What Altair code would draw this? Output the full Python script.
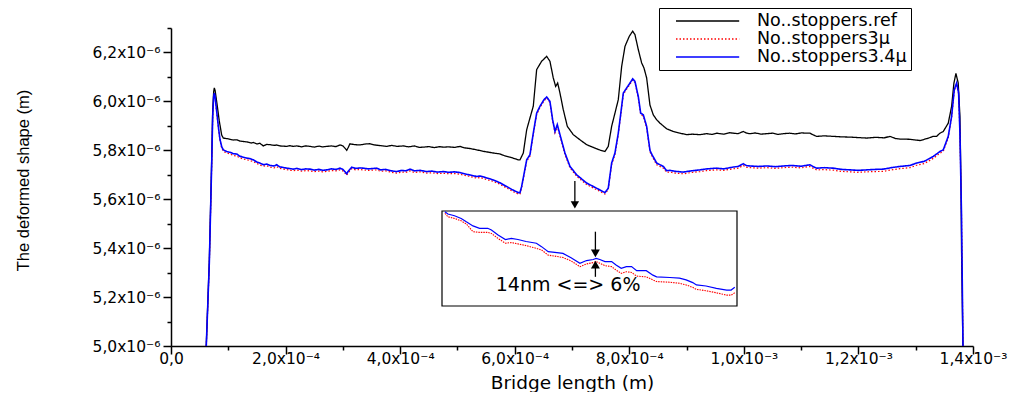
import json
import altair as alt
import pandas as pd

# ---------------- data (x in 1e-4 m, y in 1e-6 m) ----------------
ref_x = [0.600, 0.669, 0.710, 0.728, 0.745, 0.756, 0.770, 0.797, 0.843, 0.885, 0.913, 0.970, 1.030, 1.090,
         1.147, 1.200, 1.262, 1.330, 1.400, 1.437, 1.500, 1.550, 1.611, 1.670, 1.728, 1.800, 1.845, 1.900,
         2.020, 2.080, 2.135, 2.200, 2.280, 2.350, 2.426, 2.500, 2.580, 2.650, 2.718, 2.800, 2.880, 2.950,
         3.000, 3.040, 3.067, 3.095, 3.124, 3.200, 3.300, 3.400, 3.474, 3.550, 3.620, 3.700, 3.765, 3.850,
         3.950, 4.055, 4.150, 4.250, 4.330, 4.404, 4.500, 4.600, 4.680, 4.753, 4.850, 4.950, 5.044, 5.120,
         5.200, 5.336, 5.450, 5.550, 5.626, 5.743, 5.820, 5.917, 6.000, 6.062, 6.092, 6.150, 6.209, 6.266,
         6.324, 6.383, 6.470, 6.558, 6.615, 6.673, 6.715, 6.750, 6.790, 6.848, 6.918, 7.022, 7.139, 7.256,
         7.401, 7.500, 7.575, 7.633, 7.692, 7.750, 7.808, 7.867, 7.925, 8.000, 8.059, 8.099, 8.157, 8.216,
         8.256, 8.303, 8.361, 8.419, 8.478, 8.536, 8.652, 8.768, 8.827, 8.885, 9.002, 9.100, 9.234, 9.350,
         9.450, 9.525, 9.650, 9.750, 9.815, 9.900, 9.990, 10.050, 10.107, 10.200, 10.300, 10.398, 10.500,
         10.600, 10.688, 10.800, 10.900, 11.000, 11.154, 11.220, 11.271, 11.400, 11.561, 11.700, 11.852,
         12.000, 12.143, 12.300, 12.450, 12.550, 12.650, 12.725, 12.900, 13.074, 13.200, 13.306, 13.365,
         13.423, 13.481, 13.568, 13.627, 13.667, 13.702, 13.742, 13.772, 13.790, 13.800, 13.830]
ref_y = [4.900, 5.350, 5.760, 5.966, 6.040, 6.055, 6.045, 6.000, 5.920, 5.862, 5.850, 5.848, 5.845, 5.842,
         5.843, 5.838, 5.836, 5.834, 5.830, 5.832, 5.826, 5.829, 5.818, 5.824, 5.823, 5.820, 5.822, 5.818,
         5.816, 5.819, 5.816, 5.818, 5.814, 5.818, 5.816, 5.813, 5.817, 5.814, 5.816, 5.818, 5.815, 5.822,
         5.818, 5.808, 5.800, 5.812, 5.827, 5.823, 5.822, 5.826, 5.827, 5.822, 5.820, 5.818, 5.816, 5.820,
         5.816, 5.818, 5.814, 5.818, 5.812, 5.813, 5.815, 5.811, 5.815, 5.813, 5.814, 5.812, 5.816, 5.810,
         5.808, 5.802, 5.796, 5.792, 5.789, 5.785, 5.778, 5.772, 5.766, 5.761, 5.761, 5.789, 5.884, 5.932,
         5.980, 6.130, 6.164, 6.184, 6.164, 6.096, 6.061, 6.075, 6.034, 5.966, 5.898, 5.864, 5.843, 5.823,
         5.809, 5.800, 5.795, 5.816, 5.898, 5.952, 6.007, 6.143, 6.225, 6.266, 6.287, 6.273, 6.212, 6.157,
         6.137, 6.096, 5.985, 5.945, 5.925, 5.911, 5.888, 5.877, 5.873, 5.870, 5.864, 5.866, 5.864, 5.868,
         5.865, 5.870, 5.866, 5.872, 5.870, 5.868, 5.877, 5.870, 5.868, 5.871, 5.866, 5.868, 5.870,
         5.865, 5.868, 5.870, 5.867, 5.871, 5.870, 5.862, 5.857, 5.859, 5.857, 5.855, 5.854,
         5.852, 5.850, 5.853, 5.851, 5.857, 5.848, 5.846, 5.845, 5.840, 5.848, 5.857, 5.857,
         5.870, 5.877, 5.911, 5.980, 6.075, 6.114, 6.075, 5.939, 5.666, 5.390, 4.900]

mu_x = [0.600, 0.669, 0.710, 0.728, 0.745, 0.756, 0.770, 0.797, 0.830, 0.855, 0.885, 0.913, 0.970, 1.030,
        1.090, 1.147, 1.200, 1.262, 1.330, 1.379, 1.437, 1.500, 1.550, 1.611, 1.670, 1.728, 1.800, 1.845,
        1.900, 1.960, 2.020, 2.080, 2.135, 2.200, 2.280, 2.350, 2.426, 2.500, 2.580, 2.650, 2.718, 2.800,
        2.880, 2.950, 3.000, 3.040, 3.067, 3.095, 3.154, 3.220, 3.300, 3.357, 3.450, 3.590, 3.660, 3.750,
        3.850, 3.940, 4.030, 4.100, 4.172, 4.250, 4.350, 4.463, 4.550, 4.650, 4.753, 4.850, 4.950, 5.044,
        5.120, 5.200, 5.336, 5.394, 5.500, 5.626, 5.743, 5.859, 5.950, 6.062, 6.092, 6.121, 6.209, 6.266,
        6.324, 6.383, 6.441, 6.511, 6.558, 6.615, 6.662, 6.703, 6.743, 6.790, 6.877, 6.965, 7.081, 7.256,
        7.430, 7.575, 7.633, 7.692, 7.750, 7.808, 7.896, 7.954, 8.012, 8.059, 8.099, 8.157, 8.199, 8.245,
        8.303, 8.361, 8.390, 8.478, 8.594, 8.652, 8.710, 8.800, 8.943, 9.080, 9.234, 9.350, 9.525, 9.650,
        9.800, 9.900, 9.990, 10.050, 10.107, 10.250, 10.398, 10.550, 10.688, 10.850, 11.000, 11.154,
        11.220, 11.271, 11.400, 11.561, 11.700, 11.852, 12.000, 12.143, 12.300, 12.434, 12.600, 12.725,
        12.900, 13.016, 13.150, 13.306, 13.423, 13.481, 13.568, 13.627, 13.673, 13.714, 13.749, 13.772,
        13.800, 13.830]
mu34_y = [4.900, 5.340, 5.740, 5.940, 6.020, 6.034, 6.020, 5.960, 5.890, 5.845, 5.815, 5.802, 5.795, 5.792,
          5.786, 5.785, 5.776, 5.772, 5.768, 5.766, 5.761, 5.752, 5.748, 5.741, 5.744, 5.738, 5.736, 5.741,
          5.732, 5.730, 5.727, 5.725, 5.723, 5.726, 5.721, 5.724, 5.723, 5.719, 5.722, 5.718, 5.720, 5.724,
          5.722, 5.727, 5.722, 5.712, 5.704, 5.715, 5.731, 5.726, 5.728, 5.727, 5.724, 5.727, 5.720, 5.722,
          5.716, 5.713, 5.718, 5.716, 5.723, 5.716, 5.718, 5.713, 5.715, 5.711, 5.713, 5.710, 5.712, 5.709,
          5.704, 5.700, 5.693, 5.695, 5.688, 5.679, 5.667, 5.652, 5.640, 5.627, 5.627, 5.652, 5.761, 5.782,
          5.870, 5.952, 5.980, 6.007, 6.018, 6.000, 5.925, 5.877, 5.905, 5.864, 5.789, 5.734, 5.700, 5.666,
          5.645, 5.627, 5.645, 5.748, 5.789, 5.870, 6.034, 6.055, 6.075, 6.092, 6.082, 6.020, 5.952, 5.945,
          5.898, 5.800, 5.785, 5.748, 5.734, 5.717, 5.718, 5.714, 5.711, 5.716, 5.720, 5.724, 5.727, 5.724,
          5.731, 5.734, 5.745, 5.737, 5.736, 5.734, 5.736, 5.733, 5.736, 5.738, 5.735, 5.741,
          5.732, 5.727, 5.729, 5.727, 5.722, 5.720, 5.718, 5.720, 5.722, 5.723, 5.730, 5.734,
          5.738, 5.748, 5.755, 5.775, 5.795, 5.802, 5.857, 5.939, 6.048, 6.075, 6.034, 5.870,
          5.529, 4.900]
mu3_y = [4.900, 5.335, 5.735, 5.935, 6.015, 6.030, 6.016, 5.955, 5.885, 5.840, 5.809, 5.796, 5.789, 5.785,
         5.779, 5.776, 5.770, 5.764, 5.761, 5.758, 5.754, 5.746, 5.740, 5.735, 5.737, 5.731, 5.728, 5.733,
         5.726, 5.723, 5.721, 5.718, 5.717, 5.719, 5.715, 5.717, 5.716, 5.713, 5.715, 5.712, 5.714, 5.717,
         5.716, 5.720, 5.716, 5.706, 5.698, 5.709, 5.725, 5.720, 5.721, 5.720, 5.718, 5.720, 5.714, 5.716,
         5.710, 5.707, 5.711, 5.710, 5.716, 5.709, 5.712, 5.707, 5.708, 5.705, 5.706, 5.704, 5.705, 5.702,
         5.698, 5.694, 5.686, 5.689, 5.681, 5.673, 5.661, 5.646, 5.634, 5.621, 5.622, 5.647, 5.755, 5.776,
         5.865, 5.946, 5.975, 6.002, 6.014, 5.995, 5.920, 5.872, 5.898, 5.858, 5.783, 5.728, 5.694, 5.660,
         5.639, 5.621, 5.640, 5.742, 5.783, 5.864, 6.028, 6.050, 6.070, 6.088, 6.077, 6.015, 5.946, 5.939,
         5.892, 5.794, 5.779, 5.741, 5.727, 5.710, 5.711, 5.707, 5.704, 5.709, 5.713, 5.717, 5.720, 5.718,
         5.724, 5.727, 5.738, 5.730, 5.729, 5.727, 5.729, 5.726, 5.729, 5.731, 5.728, 5.734,
         5.725, 5.720, 5.721, 5.719, 5.714, 5.712, 5.710, 5.712, 5.713, 5.714, 5.721, 5.725,
         5.729, 5.739, 5.746, 5.767, 5.788, 5.796, 5.852, 5.935, 6.044, 6.071, 6.030, 5.866,
         5.525, 4.900]

# inset (zoom of the slope between the two bumps)
inset_x = [6.904, 6.908, 6.917, 6.926, 6.933, 6.942, 6.951, 6.962, 6.967, 6.976, 6.986, 6.994, 7.003,
           7.014, 7.028, 7.035, 7.044, 7.053, 7.064, 7.075, 7.087, 7.096, 7.105, 7.109, 7.114, 7.121,
           7.130, 7.136, 7.143, 7.150, 7.157, 7.164, 7.177, 7.186, 7.191, 7.209, 7.222, 7.231, 7.240,
           7.245, 7.258, 7.272, 7.286, 7.292, 7.297]
inset_34 = [5.878, 5.871, 5.866, 5.858, 5.848, 5.836, 5.829, 5.829, 5.824, 5.809, 5.796, 5.799, 5.796,
            5.790, 5.785, 5.775, 5.760, 5.758, 5.755, 5.742, 5.726, 5.734, 5.737, 5.740, 5.737, 5.731,
            5.731, 5.721, 5.711, 5.716, 5.716, 5.704, 5.704, 5.691, 5.686, 5.684, 5.682, 5.677, 5.669,
            5.662, 5.659, 5.652, 5.647, 5.647, 5.655]
inset_3 = [5.873, 5.863, 5.858, 5.851, 5.842, 5.819, 5.817, 5.817, 5.814, 5.799, 5.785, 5.787, 5.783,
           5.778, 5.770, 5.765, 5.750, 5.747, 5.743, 5.733, 5.716, 5.724, 5.728, 5.731, 5.726, 5.719,
           5.716, 5.706, 5.696, 5.701, 5.699, 5.688, 5.686, 5.677, 5.672, 5.670, 5.667, 5.662, 5.655,
           5.649, 5.645, 5.639, 5.632, 5.632, 5.639]
inset_box_x = [6.90, 7.30]
inset_box_y = [5.60, 5.88]
inset_arrow_x = [7.108]
inset_arrow_down = [5.819, 5.760, 5.755]   # stem top, stem bottom, head
inset_arrow_up = [5.686, 5.722, 5.722]     # stem bottom, stem top, head
inset_text = ["14nm <=> 6%"]
inset_text_pos = [7.071, 5.662]

main_arrow_x = [7.05]
main_arrow_y = [5.675, 5.585, 5.577]       # stem top, stem bottom, head

series_names = ["No..stoppers.ref", "No..stoppers3\u03bc", "No..stoppers3.4\u03bc"]
series_colors = ["#000000", "#ff0000", "#0000ff"]
series_dash = [[1, 0], [1.5, 2], [1, 0]]

x_tick_values = [0.0, 1e-4, 2e-4, 3e-4, 4e-4, 5e-4, 6e-4, 7e-4, 8e-4, 9e-4, 1.0e-3, 1.1e-3, 1.2e-3, 1.3e-3, 1.4e-3]
x_tick_labels = ["0,0", "2,0x10\u207b\u2074", "4,0x10\u207b\u2074", "6,0x10\u207b\u2074", "8,0x10\u207b\u2074",
                 "1,0x10\u207b\u00b3", "1,2x10\u207b\u00b3", "1,4x10\u207b\u00b3"]
y_tick_values = [5.0e-6, 5.1e-6, 5.2e-6, 5.3e-6, 5.4e-6, 5.5e-6, 5.6e-6, 5.7e-6, 5.8e-6, 5.9e-6,
                 6.0e-6, 6.1e-6, 6.2e-6, 6.3e-6]
y_tick_labels = ["5,0x10\u207b\u2076", "5,2x10\u207b\u2076", "5,4x10\u207b\u2076", "5,6x10\u207b\u2076",
                 "5,8x10\u207b\u2076", "6,0x10\u207b\u2076", "6,2x10\u207b\u2076"]

# ---------------- tables ----------------
def series_df(xs, ys, name):
    return pd.DataFrame({"x": [v * 1e-4 for v in xs], "y": [v * 1e-6 for v in ys], "series": name})

df_ref = series_df(ref_x, ref_y, series_names[0])
df_3 = series_df(mu_x, mu3_y, series_names[1])
df_34 = series_df(mu_x, mu34_y, series_names[2])

df_inset_34 = pd.DataFrame({"x": [v * 1e-4 for v in inset_x], "y": [v * 1e-6 for v in inset_34]})
df_inset_3 = pd.DataFrame({"x": [v * 1e-4 for v in inset_x], "y": [v * 1e-6 for v in inset_3]})
df_box = pd.DataFrame({"x": [inset_box_x[0] * 1e-4], "x2": [inset_box_x[1] * 1e-4],
                       "y": [inset_box_y[0] * 1e-6], "y2": [inset_box_y[1] * 1e-6]})
df_in_down = pd.DataFrame({"x": [inset_arrow_x[0] * 1e-4], "y": [inset_arrow_down[0] * 1e-6],
                           "y2": [inset_arrow_down[1] * 1e-6], "h": [inset_arrow_down[2] * 1e-6]})
df_in_up = pd.DataFrame({"x": [inset_arrow_x[0] * 1e-4], "y": [inset_arrow_up[0] * 1e-6],
                         "y2": [inset_arrow_up[1] * 1e-6], "h": [inset_arrow_up[2] * 1e-6]})
df_text = pd.DataFrame({"x": [inset_text_pos[0] * 1e-4], "y": [inset_text_pos[1] * 1e-6], "t": inset_text})
df_arrow = pd.DataFrame({"x": [main_arrow_x[0] * 1e-4], "y": [main_arrow_y[0] * 1e-6],
                         "y2": [main_arrow_y[1] * 1e-6], "h": [main_arrow_y[2] * 1e-6]})

# ---------------- scales & axes ----------------
xs = alt.Scale(domain=[0, 1.4e-3], nice=False, zero=False)
ys = alt.Scale(domain=[5.0e-6, 6.3e-6], nice=False, zero=False)

x_label_expr = ("round(datum.value*1e4) % 2 == 0 ? " + json.dumps(x_tick_labels, ensure_ascii=False)
                + "[round(datum.value*5e3)] : ''")
y_label_expr = ("round(datum.value*1e7) % 2 == 0 ? " + json.dumps(y_tick_labels, ensure_ascii=False)
                + "[round((datum.value-5e-6)*5e6)] : ''")

x_axis = alt.Axis(values=x_tick_values, labelExpr=x_label_expr, title="Bridge length (m)",
                  tickSize={"condition": {"test": "round(datum.value*1e4) % 2 == 0", "value": 8}, "value": 4},
                  labelPadding=-3, labelFlush=False, labelOverlap=False,
                  titleY=36, titleBaseline="middle", titleFont="DejaVu Sans", titleFontSize=18.5)
y_axis = alt.Axis(values=y_tick_values, labelExpr=y_label_expr, title="The deformed shape (m)",
                  tickSize={"condition": {"test": "round(datum.value*1e7) % 2 == 0", "value": 8}, "value": 4},
                  labelPadding=3, labelFlush=False, labelOverlap=False, labelBaseline="middle",
                  titleX=-148, titleY=152, titleAngle=-90, titleAlign="center", titleBaseline="middle",
                  titleFont="Liberation Sans Narrow, Liberation Sans, sans-serif", titleFontSize=16.5)

# legend line symbol: a custom path drawn wider (to the right) than its layout size keeps the rows compact
legend = alt.Legend(title=None, orient="none", legendX=488, legendY=-20, symbolType="M-1,0H6.9",
                    symbolSize=256, symbolStrokeWidth=1.3, symbolFillColor="transparent",
                    labelFont="DejaVu Sans", labelFontSize=17.5,
                    labelColor="black", strokeColor="black", fillColor="white", padding=4,
                    symbolOffset=12, labelOffset=64, rowPadding=0, columns=1)
color = alt.Color("series:N", scale=alt.Scale(domain=series_names, range=series_colors), legend=legend)
dash = alt.StrokeDash("series:N", scale=alt.Scale(domain=series_names, range=series_dash), legend=legend)

X = alt.X("x:Q", scale=xs, axis=x_axis)
Y = alt.Y("y:Q", scale=ys, axis=y_axis)

line_ref = alt.Chart(df_ref).mark_line(strokeWidth=1.3, clip=True).encode(x=X, y=Y, color=color, strokeDash=dash)
line_3 = alt.Chart(df_3).mark_line(strokeWidth=1.2, clip=True).encode(x=X, y=Y, color=color, strokeDash=dash)
line_34 = alt.Chart(df_34).mark_line(strokeWidth=1.6, clip=True).encode(x=X, y=Y, color=color, strokeDash=dash)
arrow_stem = alt.Chart(df_arrow).mark_rule(color="black", strokeWidth=1.3).encode(x=X, y=Y, y2="y2:Q")
arrow_head = alt.Chart(df_arrow).mark_point(shape="triangle-down", filled=True, size=70, color="black",
                                            opacity=1).encode(x=X, y=alt.Y("h:Q", scale=ys, axis=y_axis))

main = alt.layer(line_ref, line_3, line_34, arrow_stem, arrow_head)

# inset with its own scales mapped into a sub-rectangle of the plot
xi = alt.Scale(domain=[inset_box_x[0] * 1e-4, inset_box_x[1] * 1e-4], range=[271, 566], nice=False, zero=False)
yi = alt.Scale(domain=[inset_box_y[0] * 1e-6, inset_box_y[1] * 1e-6], range=[278, 183], nice=False, zero=False)
XI = alt.X("x:Q", scale=xi, axis=None)
YI = alt.Y("y:Q", scale=yi, axis=None)

box = alt.Chart(df_box).mark_rect(fill="white", stroke="black", strokeWidth=1.2).encode(
    x=XI, x2="x2:Q", y=YI, y2="y2:Q")
in_3 = alt.Chart(df_inset_3).mark_line(color="#ff0000", strokeWidth=1.1, strokeDash=[1.5, 1]).encode(x=XI, y=YI)
in_34 = alt.Chart(df_inset_34).mark_line(color="#0000ff", strokeWidth=1.2).encode(x=XI, y=YI)
in_down_stem = alt.Chart(df_in_down).mark_rule(color="black", strokeWidth=1.3).encode(x=XI, y=YI, y2="y2:Q")
in_down_head = alt.Chart(df_in_down).mark_point(shape="triangle-down", filled=True, size=80, color="black",
                                                opacity=1).encode(x=XI, y=alt.Y("h:Q", scale=yi, axis=None))
in_up_stem = alt.Chart(df_in_up).mark_rule(color="black", strokeWidth=1.3).encode(x=XI, y=YI, y2="y2:Q")
in_up_head = alt.Chart(df_in_up).mark_point(shape="triangle-up", filled=True, size=80, color="black",
                                            opacity=1).encode(x=XI, y=alt.Y("h:Q", scale=yi, axis=None))
in_text = alt.Chart(df_text).mark_text(font="DejaVu Sans", fontSize=19, color="black", align="center",
                                       baseline="middle").encode(x=XI, y=YI, text="t:N")

inset = alt.layer(box, in_3, in_34, in_down_stem, in_down_head, in_up_stem, in_up_head, in_text)

chart = alt.layer(main, inset).resolve_scale(x="independent", y="independent").properties(
    width=802, height=318,
    autosize=alt.AutoSizeParams(type="none"),
    padding={"left": 163, "top": 20, "right": 36, "bottom": 46},
    background="white",
).configure_view(stroke=None).configure_axis(
    domainColor="black", domainWidth=1.5, tickColor="black", tickWidth=1.5, grid=False,
    labelFont="DejaVu Sans", labelFontSize=15.5, labelColor="black",
    titleColor="black", titleFontWeight="normal",
)

chart.save("out.html", embed_options={"renderer": "svg", "actions": False})
